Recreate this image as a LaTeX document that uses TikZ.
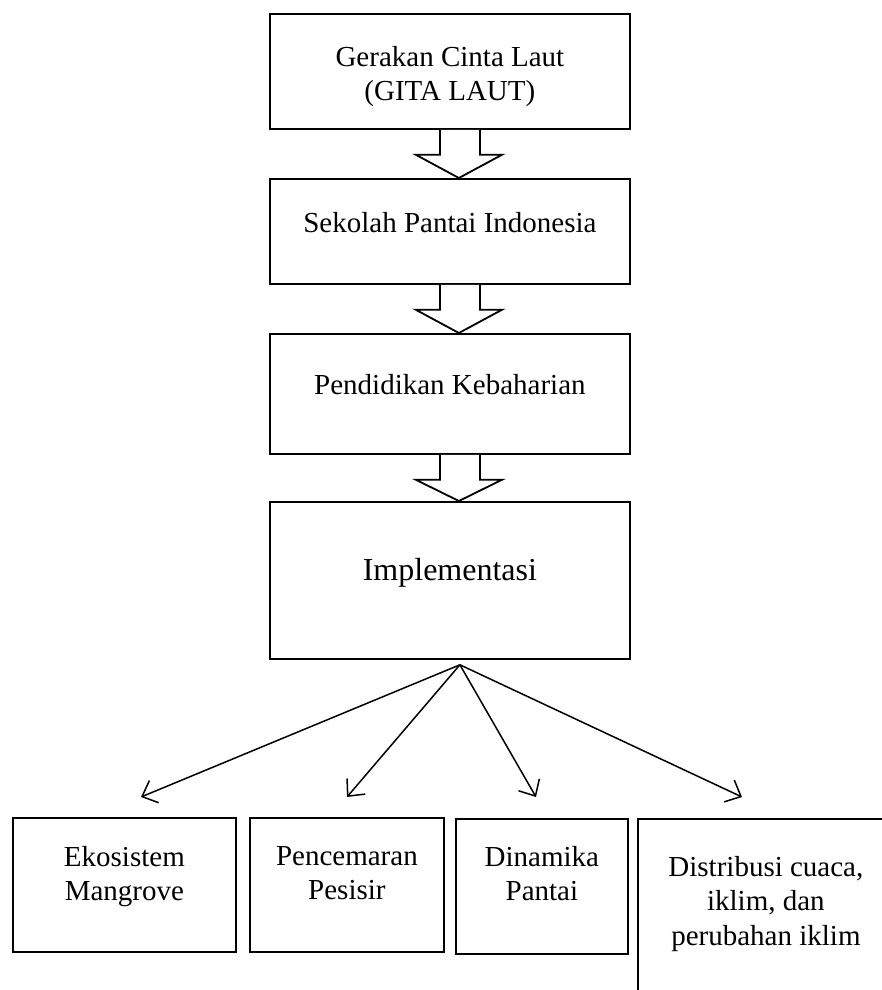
\documentclass[tikz,border=0pt]{standalone}
\usepackage{fontspec}
\setmainfont{Liberation Serif}
\usetikzlibrary{arrows.meta,calc,positioning}
\tikzset{
  box/.style={draw,line width=1.8pt,inner sep=0pt,anchor=north west},
  txt/.style={align=center,inner sep=0pt,font=\fontsize{29}{34.5}\selectfont},
  blockarrow/.style={draw,line width=1.8pt,fill=white,line join=miter},
  fan/.style={line width=1.5pt,-{Straight Barb[length=13pt,width=24pt,line width=1.5pt]}}
}
\begin{document}
\begin{tikzpicture}[x=1pt,y=-1pt]
\useasboundingbox (0,0) rectangle (882,990);
\clip (0,0) rectangle (882,990);
%main column
\node[box,minimum width=360pt,minimum height=115pt] (gita) at (269,13) {};
\node[box,minimum width=360pt,minimum height=105pt] (sekolah) at (269,178) {};
\node[box,minimum width=360pt,minimum height=120pt] (pendidikan) at (269,333) {};
\node[box,minimum width=360pt,minimum height=157pt] (impl) at (269,501) {};
\node[txt,below=33pt of gita.north] (gitaT) {Gerakan Cinta Laut\\(GITA LAUT)};
\node[txt,below=34pt of sekolah.north] (sekolahT) {Sekolah Pantai Indonesia};
\node[txt,below=41pt of pendidikan.north] (pendidikanT) {Pendidikan Kebaharian};
\node[txt,font=\fontsize{32}{38}\selectfont,below=57pt of impl.north] (implT) {Implementasi};
%block arrows
\foreach \a/\b in {gita/sekolah,sekolah/pendidikan,pendidikan/impl}
  \draw[blockarrow] ($(\a.south)+(-10,0)$) -- ++(0,25) -- ++(-24,0) -- ($(\b.north)+(9,0)$)
    -- ($(\a.south)+(52,25)$) -- ++(-22,0) -- ++(0,-25);
%topics
\node[box,minimum width=223pt,minimum height=134pt] (eko) at (12,817) {};
\node[box,minimum width=194pt,minimum height=134pt] (cemar) at (249,817) {};
\node[box,minimum width=172pt,minimum height=135pt] (dinamika) at (455,818) {};
\node[box,minimum width=256pt,minimum height=200pt] (iklim) at (637,818) {};
\node[txt,below=29pt of eko.north] (ekoT) {Ekosistem\\Mangrove};
\node[txt,below=29pt of cemar.north] (cemarT) {Pencemaran\\Pesisir};
\node[txt,below=28pt of dinamika.north] (dinamikaT) {Dinamika\\Pantai};
\node[txt,below=38pt of iklim.north] (iklimT) {Distribusi cuaca,\\iklim, dan\\perubahan iklim};
%fan out
\coordinate (hub) at ($(impl.south)+(10,5)$);
\coordinate (t1) at (141,797);
\coordinate (t2) at (347,797);
\coordinate (t3) at (536,797);
\coordinate (t4) at (742,797);
\foreach \t in {t1,t2,t3,t4}
  \draw[fan] (hub) -- (\t);
\end{tikzpicture}
\end{document}
